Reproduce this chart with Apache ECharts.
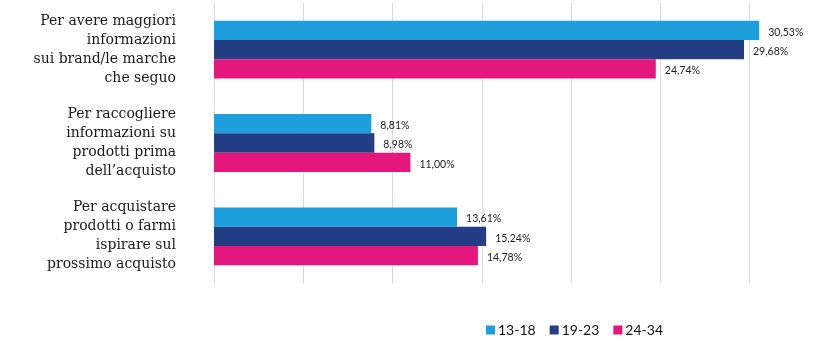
<!DOCTYPE html>
<html>
<head>
<meta charset="utf-8">
<script src="https://cdn.jsdelivr.net/npm/echarts@6/dist/echarts.min.js"></script>
<style>
  html, body { margin: 0; padding: 0; background: #ffffff; }
  #chart { width: 833px; height: 342px; }
</style>
</head>
<body>
<div id="chart"></div>
<script>
// Motivations (top to bottom) and share of respondents by age group, in percent
const categories = [
  'Per avere maggiori\ninformazioni\nsui brand/le marche\nche seguo',
  'Per raccogliere\ninformazioni su\nprodotti prima\ndell\u2019acquisto',
  'Per acquistare\nprodotti o farmi\nispirare sul\nprossimo acquisto'
];
const seriesNames = ['13-18', '19-23', '24-34'];
const values13_18 = [30.53, 8.81, 13.61];
const values19_23 = [29.68, 8.98, 15.24];
const values24_34 = [24.74, 11.00, 14.78];
const seriesColors = ['#1d9fde', '#243e86', '#e3177c'];

const chart = echarts.init(document.getElementById('chart'), null, { renderer: 'canvas' });

function fmt(v) {
  return v.toFixed(2).replace('.', ',') + '%';
}

function makeSeries(name, data, color) {
  return {
    name: name,
    type: 'bar',
    data: data,
    barGap: '0%',
    barCategoryGap: '38%',
    itemStyle: { color: color },
    label: {
      show: true,
      position: 'right',
      distance: 9,
      offset: [0, 2],
      color: '#222',
      fontFamily: 'Lato',
      fontSize: 10.5,
      formatter: p => fmt(p.value)
    }
  };
}

chart.setOption({
  animation: false,
  backgroundColor: '#ffffff',
  grid: { left: 214, top: 3, width: 625, height: 280, containLabel: false, outerBoundsMode: 'none' },
  legend: {
    data: seriesNames,
    left: 481,
    top: 318,
    itemWidth: 9,
    itemHeight: 9,
    itemGap: 14,
    icon: 'rect',
    textStyle: { fontFamily: 'Lato', fontSize: 14, color: '#111', padding: [0, 0, 0, -2] }
  },
  xAxis: {
    type: 'value',
    min: 0,
    max: 35,
    interval: 5,
    axisLabel: { show: false },
    axisLine: { show: false },
    axisTick: { show: false },
    splitLine: { show: true, lineStyle: { color: '#d9d9d9', width: 1 } }
  },
  yAxis: {
    type: 'category',
    data: categories,
    inverse: true,
    axisLine: { show: false },
    axisTick: { show: false },
    axisLabel: {
      margin: 38,
      align: 'right',
      fontFamily: 'DejaVu Serif',
      fontSize: 14,
      lineHeight: 19,
      color: '#1a1a1a'
    }
  },
  series: [
    makeSeries(seriesNames[0], values13_18, seriesColors[0]),
    makeSeries(seriesNames[1], values19_23, seriesColors[1]),
    makeSeries(seriesNames[2], values24_34, seriesColors[2])
  ]
});
</script>
</body>
</html>
